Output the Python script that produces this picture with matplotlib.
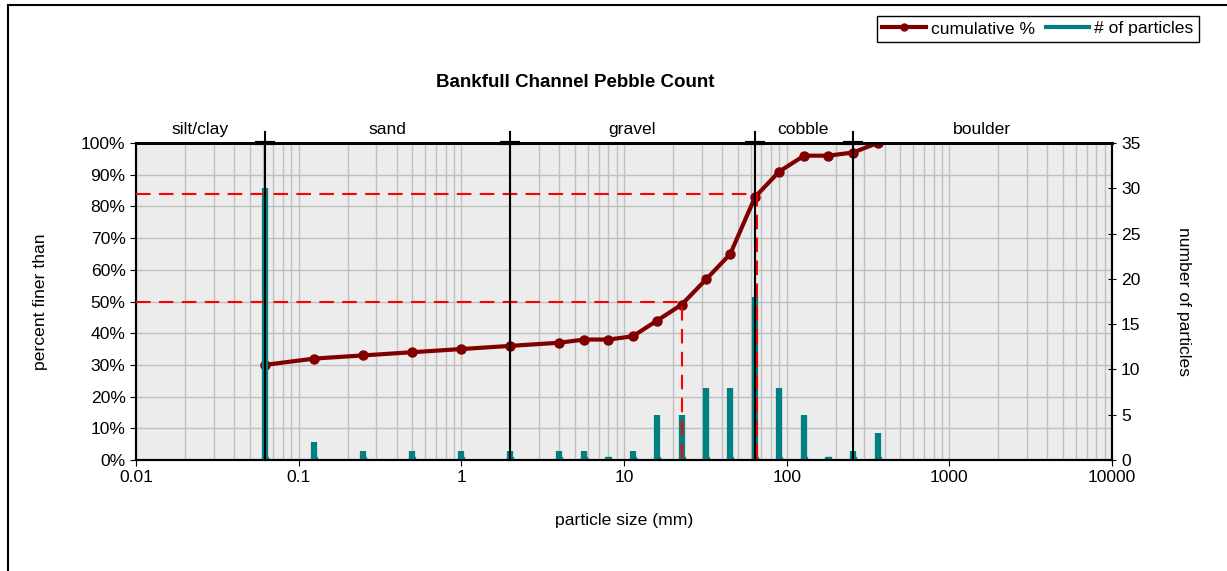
import matplotlib.pyplot as plt
import matplotlib.ticker as mticker
from matplotlib.lines import Line2D
from matplotlib.patches import Rectangle

plt.rcParams['font.family'] = ['Liberation Sans', 'DejaVu Sans']
plt.rcParams['font.size'] = 12.6

# sieve sizes (mm), particle counts and cumulative percent finer
sizes = [0.062, 0.125, 0.25, 0.5, 1, 2, 4, 5.7, 8, 11.3, 16, 22.6, 32, 45, 64, 90, 128, 180, 256, 362]
counts = [30, 2, 1, 1, 1, 1, 1, 1, 0, 1, 5, 5, 8, 8, 18, 8, 5, 0, 1, 3]
cumulative = [30, 32, 33, 34, 35, 36, 37, 38, 38, 39, 44, 49, 57, 65, 83, 91, 96, 96, 97, 100]

# size class boundaries and names
class_bounds = [0.062, 2, 64, 256]
class_names = ['silt/clay', 'sand', 'gravel', 'cobble', 'boulder']
class_centers = [0.0247, 0.35, 11.2, 126, 1585]

# D50 / D84 guides
d_percent = [50, 84]
d_size = [22.7, 65.6]

dark_red = '#800000'
teal = '#008080'

fig = plt.figure(figsize=(12.27, 5.71), dpi=100)
fig.patches.append(Rectangle((8 / 1227, -0.1), 1.2, 1 - 5 / 571 + 0.1,
                             transform=fig.transFigure, fill=False,
                             edgecolor='black', linewidth=1.5))

ax = fig.add_axes([136 / 1227, 1 - 460 / 571, 976 / 1227, 317 / 571])
ax.set_facecolor('#ececec')
ax.set_xscale('log')
ax.set_xlim(0.01, 10000)
ax.set_ylim(0, 100)
ax.xaxis.set_major_formatter(mticker.FuncFormatter(lambda v, p: f'{v:g}'))
ax.xaxis.set_minor_formatter(mticker.NullFormatter())
ax.yaxis.set_major_locator(mticker.MultipleLocator(10))
ax.yaxis.set_major_formatter(mticker.FuncFormatter(lambda v, p: f'{v:.0f}%'))
ax.grid(True, which='both', axis='x', color='#c0c0c0', linewidth=1)
ax.grid(True, which='major', axis='y', color='#c0c0c0', linewidth=1)
ax.set_axisbelow(True)
ax.tick_params(axis='x', which='minor', length=0)
ax.tick_params(axis='both', which='major', length=4, direction='out')
for s in ax.spines.values():
    s.set_linewidth(1.5)
ax.spines['top'].set_linewidth(2)

ax.plot(sizes, cumulative, color=dark_red, linewidth=3, marker='o', markersize=6.5, zorder=3)

ax.set_xlabel('particle size (mm)', labelpad=20)
ax.set_ylabel('percent finer than', labelpad=24)

ax2 = ax.twinx()
ax2.set_ylim(0, 35)
ax2.yaxis.set_major_locator(mticker.MultipleLocator(5))
ax2.tick_params(axis='y', length=6, direction='inout')
ax2.vlines(sizes, 0, counts, color=teal, linewidth=4.5, zorder=2)
ax2.plot(sizes, [0] * len(sizes), linestyle='none', marker='s', markersize=4.5,
         color=teal, zorder=2)
ax2.set_ylabel('number of particles', rotation=270, labelpad=36)
for s in ax2.spines.values():
    s.set_linewidth(1.5)
ax2.spines['top'].set_linewidth(2)

# class boundaries
for b in class_bounds:
    ax2.plot([b, b], [0, 103.5], color='black', linewidth=1.5, transform=ax.transData,
             clip_on=False, zorder=6)
    ax2.plot([b / 1.12, b * 1.12], [100, 100], color='black', linewidth=3,
             transform=ax.transData, clip_on=False, zorder=6)
for name, c in zip(class_names, class_centers):
    ax.text(c, 101.8, name, ha='center', va='bottom')

# D50 / D84 dashed guides
for p, d in zip(d_percent, d_size):
    ax2.plot([0.01, d, d], [p, p, 0], color='red', linestyle=(0, (7, 4)), linewidth=1.5,
             transform=ax.transData, zorder=5)

fig.text(575 / 1227, 1 - 83 / 571, 'Bankfull Channel Pebble Count', ha='center', va='center',
         fontweight='bold', fontsize=13.5)

handles = [Line2D([], [], color=dark_red, linewidth=3, marker='o', markersize=5),
           Line2D([], [], color=teal, linewidth=3)]
fig.legend(handles, ['cumulative %', '# of particles'], loc='upper right', ncol=2,
           bbox_to_anchor=(1199 / 1227, 1 - 16 / 571), borderaxespad=0, fancybox=False,
           edgecolor='black', framealpha=1, handlelength=2.5, columnspacing=0.6,
           handletextpad=0.3, borderpad=0.3)

fig.savefig('out.png', dpi=100)
